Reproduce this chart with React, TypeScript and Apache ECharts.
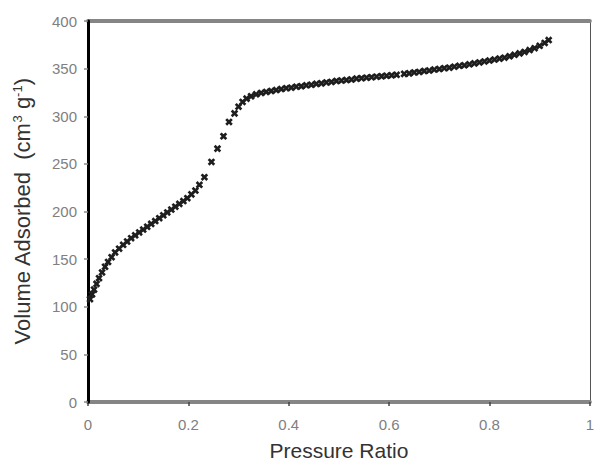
import React, { useEffect, useRef } from "react";
import * as echarts from "echarts";

const xTicks = [0, 0.2, 0.4, 0.6, 0.8, 1];
const yTicks = [0, 50, 100, 150, 200, 250, 300, 350, 400];

const pressure = [
  0.004, 0.008, 0.012, 0.017, 0.022, 0.028, 0.034, 0.04, 0.047, 0.054,
  0.062, 0.07, 0.078, 0.086, 0.094, 0.102, 0.11, 0.118, 0.126, 0.134,
  0.142, 0.15, 0.158, 0.166, 0.174, 0.182, 0.19, 0.198, 0.206, 0.214,
  0.222, 0.232, 0.246, 0.258, 0.27, 0.281, 0.292, 0.3, 0.308, 0.316,
  0.325, 0.335, 0.345, 0.355, 0.365, 0.375, 0.385, 0.395, 0.405, 0.415,
  0.425, 0.435, 0.445, 0.455, 0.465, 0.475, 0.485, 0.495, 0.505, 0.515,
  0.525, 0.535, 0.545, 0.555, 0.565, 0.575, 0.585, 0.595, 0.605, 0.615,
  0.63, 0.64, 0.65, 0.66, 0.67, 0.68, 0.69, 0.7, 0.71, 0.72,
  0.73, 0.74, 0.75, 0.76, 0.77, 0.78, 0.79, 0.8, 0.81, 0.82,
  0.83, 0.84, 0.85, 0.86, 0.87, 0.88, 0.89, 0.9, 0.91, 0.918,
];

const volume = [
  108, 113, 118, 124, 130, 136, 142, 147, 152, 157,
  161, 165, 168.5, 172, 175, 178, 181, 184, 187, 190,
  193, 196, 199, 202, 205, 208, 211, 214, 218, 222,
  228, 236, 252, 266, 279, 294, 303, 310, 315, 318.5,
  321, 323, 324.5, 325.5, 326.5, 327.5, 328.5, 329.5, 330, 331,
  331.5, 332.5, 333, 334, 334.5, 335.5, 336, 337, 337.5, 338,
  338.5, 339.5, 340, 340.5, 341, 341.5, 342, 342.5, 343, 343.5,
  344.5, 345, 346, 346.5, 347.5, 348, 349, 349.5, 350.5, 351,
  352, 353, 353.5, 354.5, 355.5, 356.5, 357.5, 358.5, 359.5, 360.5,
  361.5, 363, 364.5, 366, 367.5, 369.5, 371.5, 374, 377, 380,
];

export default function App() {
  const ref = useRef<HTMLDivElement>(null);

  useEffect(() => {
    if (!ref.current) return;
    const chart = echarts.init(ref.current, null, { renderer: "svg" });
    const font = "'Liberation Sans', Arial, sans-serif";
    const data = pressure.map((p, i) => [p, volume[i]]);
    chart.setOption({
      animation: false,
      backgroundColor: "#ffffff",
      grid: { left: 88, top: 21, right: 1, bottom: 62, containLabel: false },
      xAxis: [
        {
          type: "value",
          position: "bottom",
          min: xTicks[0],
          max: xTicks[xTicks.length - 1],
          interval: 0.2,
          splitLine: { show: false },
          axisLine: { show: true, onZero: false, lineStyle: { color: "#858585", width: 4 } },
          axisTick: { show: true, inside: false, length: 4, lineStyle: { color: "#444", width: 1.5 } },
          axisLabel: {
            color: "#808080",
            fontSize: 15,
            fontFamily: font,
            margin: 15,
            formatter: (v: number) => String(Math.round(v * 10) / 10),
          },
          name: "Pressure Ratio",
          nameLocation: "middle",
          nameGap: 38,
          nameTextStyle: { color: "#333", fontSize: 21, fontFamily: font },
          z: 1,
        },
        {
          type: "value",
          position: "top",
          min: 0,
          max: 1,
          interval: 0.2,
          splitLine: { show: false },
          axisLine: { show: true, onZero: false, lineStyle: { color: "#858585", width: 4 } },
          axisTick: { show: false },
          axisLabel: { show: false },
          z: 1,
        },
      ],
      yAxis: [
        {
          type: "value",
          position: "left",
          min: yTicks[0],
          max: yTicks[yTicks.length - 1],
          interval: 50,
          splitLine: { show: false },
          axisLine: { show: true, onZero: false, lineStyle: { color: "#000", width: 3 } },
          axisTick: { show: true, inside: false, length: 4, lineStyle: { color: "#888", width: 1.5 } },
          axisLabel: { color: "#808080", fontSize: 15, fontFamily: font, margin: 11 },
          name: "{a|Volume Adsorbed  (cm}{s|3}{a| g}{s|-1}{a|)}",
          nameLocation: "middle",
          nameGap: 54,
          nameRotate: 90,
          nameTextStyle: {
            color: "#333",
            fontFamily: font,
            rich: {
              a: { fontSize: 22, color: "#333", fontFamily: font, lineHeight: 24 },
              s: { fontSize: 13, color: "#333", fontFamily: font, padding: [0, 0, 10, 0], lineHeight: 24 },
            },
          },
          z: 2,
        },
        {
          type: "value",
          position: "right",
          min: 0,
          max: 400,
          interval: 50,
          splitLine: { show: false },
          axisLine: { show: true, onZero: false, lineStyle: { color: "#555", width: 1 } },
          axisTick: { show: false },
          axisLabel: { show: false },
        },
      ],
      series: [
        {
          type: "scatter",
          xAxisIndex: 0,
          yAxisIndex: 0,
          data,
          symbol: "path://M2,0H4V2H6V4H4V6H2V4H0V2H2Z",
          symbolSize: 8,
          symbolRotate: 45,
          itemStyle: { color: "#1e1e1e", opacity: 1 },
          z: 3,
        },
      ],
    });
    return () => chart.dispose();
  }, []);

  return (
    <div
      ref={ref}
      style={{ position: "absolute", left: 0, top: 0, width: 597, height: 466 }}
    />
  );
}
